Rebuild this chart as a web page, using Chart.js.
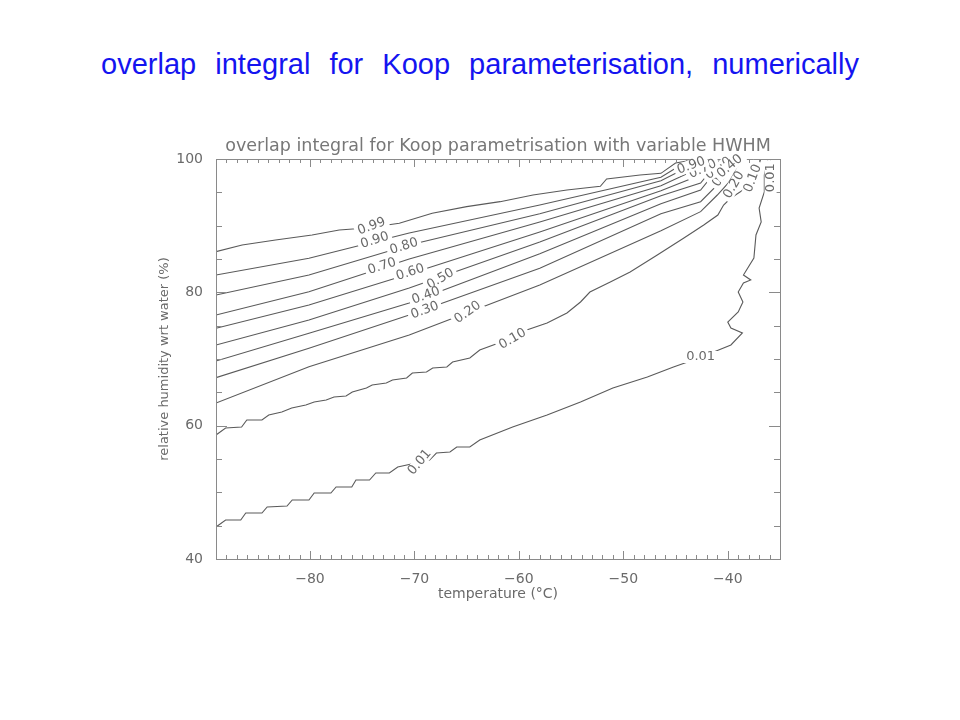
<!DOCTYPE html>
<html>
<head>
<meta charset="utf-8">
<title>overlap integral</title>
<script src="https://cdn.jsdelivr.net/npm/chart.js@4.4.1/dist/chart.umd.min.js"></script>
<style>
  body { margin: 0; background: #fff; }
  #wrap { position: relative; width: 960px; height: 720px; }
  #heading {
    position: absolute; left: 0; top: 47px; width: 960px;
    text-align: center; color: #1414f0;
    font-family: "Liberation Sans", Arial, sans-serif; font-size: 29px;
    line-height: 34px; word-spacing: 11px;
  }
  canvas { position: absolute; left: 0; top: 0; }
</style>
</head>
<body>
<div id="wrap">
  <div id="heading">overlap integral for Koop parameterisation, numerically</div>
  <canvas id="contourChart" width="960" height="720"></canvas>
</div>
<script>
// contour lines: [temperature degC, RH %]
const contour099 = [[-89,86.1],[-86.5,87.1],[-83.3,87.85],[-79.8,88.6],[-77.2,89.35],[-74.6,89.65],[-71.45,90.35],[-68.3,91.85],[-65.0,92.85],[-61.8,93.6],[-58.65,94.6],[-55.4,95.35],[-52.2,95.9],[-51.6,97.0],[-48.4,97.6],[-46.4,97.85],[-45.0,99.4],[-42.8,100]];
const contour090 = [[-89,82.6],[-80.1,85.1],[-70.5,88.9],[-58.0,93.1],[-46.4,97.25],[-44.5,99.1],[-42.2,100]];
const contour080 = [[-89,79.6],[-80.1,82.6],[-70.5,87.1],[-58.0,91.8],[-46.4,96.75],[-44.0,98.65],[-41.8,100]];
const contour070 = [[-89,76.6],[-80.1,80.1],[-70.5,85.0],[-58.0,90.55],[-46.4,96.0],[-43.55,98.05],[-41.45,100]];
const contour060 = [[-89,74.6],[-80.1,78.1],[-70.5,82.75],[-58.0,89.05],[-46.4,95.25],[-43.1,97.3],[-41.1,100]];
const contour050 = [[-89,72.1],[-80.1,75.85],[-70.5,80.65],[-58.0,87.55],[-46.4,94.5],[-42.6,96.4],[-40.7,100]];
const contour040 = [[-89,69.7],[-80.1,73.85],[-70.5,78.4],[-58.0,85.8],[-46.4,93.3],[-42.6,95.35],[-40.2,100]];
const contour030 = [[-89,67.2],[-80.1,71.6],[-70.5,76.6],[-58.0,83.6],[-46.4,91.8],[-42.6,93.6],[-41.0,96.1],[-39.7,100]];
const contour020 = [[-89,63.4],[-80.1,68.85],[-70.5,73.6],[-58.0,81.1],[-46.4,89.25],[-42.6,92.1],[-41.0,94.6],[-39.9,96.5],[-39.1,98.6],[-38.8,100]];
const contour010 = [[-89,58.6],[-88.08,59.65],[-86.55,59.8],[-86.05,60.85],[-84.6,60.85],[-83.95,61.6],[-82.7,62.05],[-81.75,62.65],[-80.4,63.1],[-79.6,63.55],[-78.45,63.85],[-77.7,64.3],[-76.55,64.45],[-75.95,65.05],[-74.6,65.65],[-74.05,66.1],[-72.7,66.4],[-72.1,66.85],[-70.75,67.15],[-70.2,67.9],[-68.85,68.05],[-68.25,68.65],[-66.9,68.8],[-66.35,69.55],[-64.7,70.15],[-63.75,71.35],[-61.15,72.85],[-59.25,74.35],[-57.3,75.4],[-55.4,76.9],[-54.1,78.55],[-53.2,80.05],[-51.25,81.55],[-49.35,83.05],[-46.75,85.6],[-44.2,88.15],[-42.3,90.1],[-40.95,91.6],[-40.4,93.1],[-39.7,94.15],[-37.8,96.1],[-37.1,98.65],[-36.85,100]];
const contour001 = [[-89,44.8],[-88.08,45.85],[-86.63,45.85],[-86.15,46.9],[-84.6,46.9],[-84.1,47.8],[-82.2,47.95],[-81.7,48.85],[-80.1,48.85],[-79.6,49.9],[-78.0,49.9],[-77.5,50.8],[-76.0,50.8],[-75.6,51.85],[-74.3,51.85],[-73.7,52.9],[-72.4,52.9],[-71.6,53.8],[-68.55,54.85],[-67.9,55.9],[-66.6,56.05],[-65.95,56.8],[-64.7,56.8],[-63.75,57.85],[-60.6,59.8],[-57.3,61.6],[-54.1,63.55],[-51.0,65.65],[-47.7,67.3],[-45.2,68.8],[-43.3,69.85],[-41.35,71.05],[-39.7,72.1],[-38.6,73.9],[-39.7,74.65],[-40.0,75.55],[-39.0,77.05],[-38.55,78.55],[-39.0,80.05],[-38.5,81.4],[-37.8,81.85],[-38.5,82.6],[-37.5,85.15],[-37.3,88.6],[-36.8,90.55],[-37.0,92.65],[-36.5,95.05],[-36.5,97.6],[-36.15,100]];

const contours = [contour099, contour090, contour080, contour070, contour060, contour050, contour040, contour030, contour020, contour010, contour001];
const levels = ["0.99", "0.90", "0.80", "0.70", "0.60", "0.50", "0.40", "0.30", "0.20", "0.10", "0.01"];

const xTicks = [-80, -70, -60, -50, -40];
const yTicks = [40, 60, 80, 100];

// contour labels: text, temperature, RH, angle in degrees
const labelText  = ["0.99", "0.90", "0.80", "0.70", "0.60", "0.50", "0.40", "0.30", "0.20", "0.10", "0.01", "0.01", "0.01", "0.10", "0.20", "0.30", "0.50", "0.70", "0.40", "0.90"];
const labelTemp  = [-74.1, -73.8, -71.0, -73.1, -70.4, -67.5, -68.9, -69.0, -64.9, -60.6, -69.5, -42.6, -35.9, -37.6, -39.4, -40.4, -40.9, -42.4, -39.8, -43.5];
const labelRH    = [89.9, 87.8, 86.9, 83.9, 83.0, 82.0, 79.5, 77.3, 77.0, 73.0, 54.5, 70.3, 97.2, 97.1, 96.1, 97.8, 98.6, 98.5, 98.9, 99.0];
const labelAngle = [-20, -18, -18, -18, -18, -30, -20, -20, -35, -30, -50, 0, -90, -70, -60, -55, -35, -25, -40, -20];

const lineColor = "#5a5a5a";
const textColor = "#6a6a6a";

const framePlugin = {
  id: "frame",
  afterDatasetsDraw(chart) {
    const { ctx, chartArea: a, scales: { x, y } } = chart;
    ctx.save();
    ctx.strokeStyle = "#8a8a8a";
    ctx.lineWidth = 1;
    ctx.strokeRect(Math.round(a.left) + 0.5, Math.round(a.top) + 0.5,
      Math.round(a.right - a.left), Math.round(a.bottom - a.top));
    ctx.beginPath();
    for (let t = Math.ceil(x.min); t <= x.max; t++) {
      const px = Math.round(x.getPixelForValue(t)) + 0.5;
      const len = t % 10 === 0 ? 8 : 4;
      ctx.moveTo(px, a.bottom); ctx.lineTo(px, a.bottom - len);
      ctx.moveTo(px, a.top); ctx.lineTo(px, a.top + len);
    }
    for (let v = y.min; v <= y.max; v += 5) {
      const py = Math.round(y.getPixelForValue(v)) + 0.5;
      const len = (v - 40) % 20 === 0 ? 11 : 6;
      ctx.moveTo(a.left, py); ctx.lineTo(a.left + len, py);
      ctx.moveTo(a.right, py); ctx.lineTo(a.right - len, py);
    }
    ctx.stroke();

    // contour labels with a white gap behind them
    ctx.font = "13px 'DejaVu Sans'";
    ctx.textAlign = "center";
    ctx.textBaseline = "middle";
    labelText.forEach((txt, i) => {
      const px = x.getPixelForValue(labelTemp[i]);
      const py = y.getPixelForValue(labelRH[i]);
      const w = ctx.measureText(txt).width;
      ctx.save();
      ctx.translate(px, py);
      ctx.rotate(labelAngle[i] * Math.PI / 180);
      ctx.fillStyle = "#fff";
      ctx.fillRect(-w / 2 - 3, -6, w + 6, 12);
      ctx.fillStyle = textColor;
      ctx.fillText(txt, 0, 0);
      ctx.restore();
    });
    ctx.restore();
  }
};

const fmt = v => (v < 0 ? "\u2212" + Math.abs(v) : String(v));

const ctx = document.getElementById("contourChart").getContext("2d");
const chart = new Chart(ctx, {
  type: "scatter",
  data: {
    datasets: contours.map((c, i) => ({
      label: levels[i],
      data: c.map(p => ({ x: p[0], y: p[1] })),
      showLine: true,
      borderColor: lineColor,
      borderWidth: 1.1,
      pointRadius: 0,
      tension: 0,
      clip: 0
    }))
  },
  options: {
    responsive: false,
    animation: false,
    layout: { padding: { left: 153, right: 180, top: 135.5, bottom: 114.2 } },
    plugins: {
      legend: { display: false },
      tooltip: { enabled: false },
      title: {
        display: true,
        fullSize: false,
        text: "overlap integral for Koop parametrisation with variable HWHM",
        color: "#777",
        font: { family: "'DejaVu Sans'", size: 17.5, weight: "normal" },
        padding: { top: 0, bottom: 2.5 }
      }
    },
    scales: {
      x: {
        type: "linear",
        min: -89,
        max: -35,
        afterBuildTicks: s => { s.ticks = xTicks.map(v => ({ value: v })); },
        afterFit: s => { s.height = 46.8; },
        grid: { display: false },
        border: { display: false },
        ticks: { color: textColor, padding: 4, maxRotation: 0, font: { family: "'DejaVu Sans'", size: 14 }, callback: fmt },
        title: { display: true, text: "temperature (\u00B0C)", color: textColor, padding: { top: 0, bottom: 3 }, font: { family: "'DejaVu Sans'", size: 14 } }
      },
      y: {
        type: "linear",
        min: 40,
        max: 100,
        afterBuildTicks: s => { s.ticks = yTicks.map(v => ({ value: v })); },
        afterFit: s => { s.width = 63; },
        grid: { display: false },
        border: { display: false },
        ticks: { color: textColor, padding: 5, font: { family: "'DejaVu Sans'", size: 14 }, callback: fmt },
        title: { display: true, text: "relative humidity wrt water (%)", color: textColor, padding: { top: 4, bottom: 0 }, font: { family: "'DejaVu Sans'", size: 13 } }
      }
    }
  },
  plugins: [framePlugin]
});
</script>
</body>
</html>
